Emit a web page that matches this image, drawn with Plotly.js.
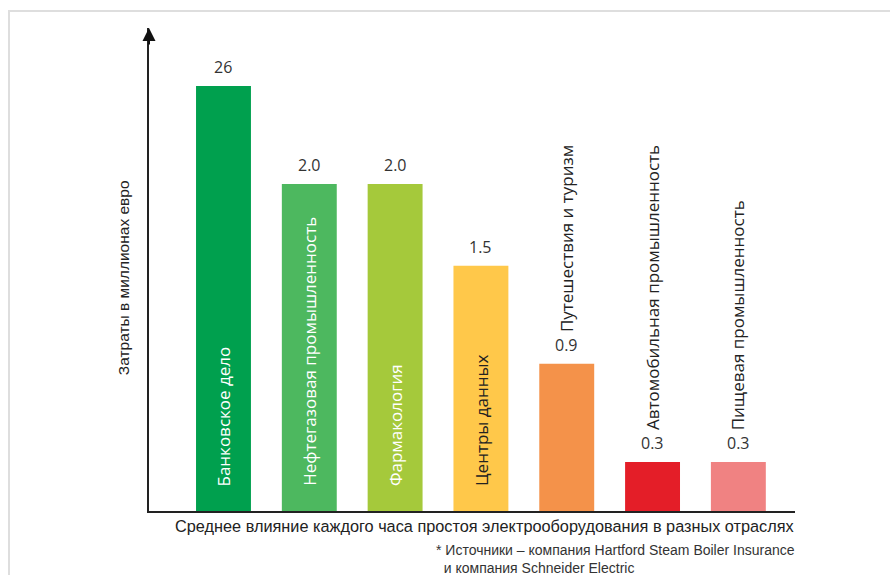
<!DOCTYPE html>
<html>
<head>
<meta charset="utf-8">
<script src="https://cdn.plot.ly/plotly-3.0.1.min.js"></script>
<style>
  html, body { margin: 0; padding: 0; background: #fff; }
  #chart { width: 890px; height: 575px; }
</style>
</head>
<body>
<div id="chart"></div>
<script>
// ---- data ----
const categories = [
  "Банковское дело",
  "Нефтегазовая промышленность",
  "Фармакология",
  "Центры данных",
  "Путешествия и туризм",
  "Автомобильная промышленность",
  "Пищевая промышленность"
];
const values = [2.6, 2.0, 2.0, 1.5, 0.9, 0.3, 0.3];
const valueLabels = ["26", "2.0", "2.0", "1.5", "0.9", "0.3", "0.3"];
const barColors = ["#00A04E", "#4DB85F", "#A5C93B", "#FFC84A", "#F4924A", "#E41E28", "#F08282"];
const labelInside = [true, true, true, true, false, false, false];
const labelColors = ["#ffffff", "#ffffff", "#ffffff", "#222222", "#222222", "#222222", "#222222"];
const yTitle = "Затраты в миллионах евро";
const xTitle = "Среднее влияние каждого часа простоя электрооборудования в разных отраслях";
const footnote1 = "* Источники – компания Hartford Steam Boiler Insurance";
const footnote2 = "и компания Schneider Electric";

// ---- chart ----
const trace = {
  type: "bar",
  x: categories,
  y: values,
  marker: { color: barColors, line: { width: 0 } },
  width: 0.64,
  hoverinfo: "skip",
  showlegend: false
};

const annotations = [];
categories.forEach((c, i) => {
  annotations.push({
    x: c, y: values[i], xref: "x", yref: "y",
    text: valueLabels[i], showarrow: false,
    xanchor: "center", yanchor: "bottom", yshift: 6,
    font: { family: "Open Sans, sans-serif", size: 16, color: "#333" }
  });
  annotations.push({
    x: c, y: labelInside[i] ? 0 : values[i], xref: "x", yref: "y",
    text: c, showarrow: false, textangle: -90,
    xanchor: "center", yanchor: "bottom", yshift: labelInside[i] ? 23 : 30,
    font: { family: "Open Sans, sans-serif", size: 17, color: labelColors[i] }
  });
});
// axis arrow head
annotations.push({
  x: 0, y: 1, xref: "paper", yref: "paper",
  ax: 0, ay: 18, showarrow: true, arrowhead: 2, arrowsize: 1.3,
  arrowwidth: 2, arrowcolor: "#111", text: ""
});
// axis titles
annotations.push({
  x: 0, y: 0.482, xref: "paper", yref: "paper", xshift: -26,
  text: yTitle, textangle: -90, showarrow: false,
  xanchor: "center", yanchor: "middle",
  font: { family: "Liberation Sans, Arial, sans-serif", size: 15.5, color: "#222" }
});
annotations.push({
  x: 1.0015, y: 0, xref: "paper", yref: "paper", yshift: -4,
  text: xTitle, showarrow: false, xanchor: "right", yanchor: "top",
  font: { family: "Liberation Sans Narrow, Arial Narrow, sans-serif", size: 16.3, color: "#222" }
});
annotations.push({
  x: (434 - 149) / 646, y: 0, xref: "paper", yref: "paper", yshift: -29,
  text: footnote1 + "<br>  " + footnote2, showarrow: false, align: "left",
  xanchor: "left", yanchor: "top",
  font: { family: "Liberation Sans Narrow, Arial Narrow, sans-serif", size: 14, color: "#333" }
});

const layout = {
  width: 890, height: 575,
  margin: { l: 149, r: 95, t: 28, b: 64 },
  paper_bgcolor: "#ffffff", plot_bgcolor: "#ffffff",
  bargap: 0.36,
  xaxis: {
    type: "category", range: [-0.868, 6.66],
    showline: true, linecolor: "#222", linewidth: 2,
    showticklabels: false, ticks: "", showgrid: false, zeroline: false, fixedrange: true
  },
  yaxis: {
    range: [0, 2.954],
    showline: true, linecolor: "#222", linewidth: 2,
    showticklabels: false, ticks: "", showgrid: false, zeroline: false, fixedrange: true
  },
  shapes: [{
    type: "path", xref: "paper", yref: "paper",
    path: "M " + ((9 - 149) / 646) + " " + ((511 - 600) / 483) +
          " L " + ((9 - 149) / 646) + " " + ((511 - 11) / 483) +
          " L " + ((900 - 149) / 646) + " " + ((511 - 11) / 483),
    line: { color: "#DEDEDE", width: 2 }
  }],
  annotations: annotations
};

Plotly.newPlot("chart", [trace], layout, { displayModeBar: false, staticPlot: true });
</script>
</body>
</html>
